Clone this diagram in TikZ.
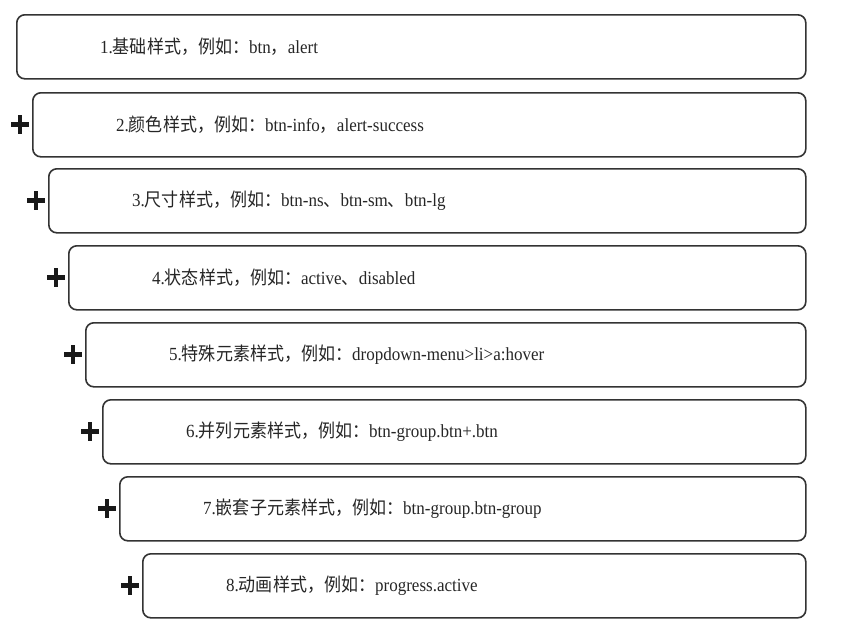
\documentclass[tikz,border=0pt]{standalone}
\usepackage{fontspec}
\setmainfont{Liberation Serif}[FakeStretch=0.92]
\newfontfamily\cjk{Noto Sans CJK SC}[FakeStretch=0.92]
\newcommand\zh[1]{{\cjk #1}}
\tikzset{
  box/.style={draw=black!80, line width=1.6pt, rounded corners=8pt, fill=white,
    minimum height=64pt, anchor=north west, inner sep=0pt},
  lbl/.style={anchor=west, inner sep=0pt, font=\fontsize{18.5}{21}\selectfont, text=black!85},
  plussign/.style={line width=4.8pt, draw=black!90}
}
\newcommand\boxrow[4]{% name, left, top, text
  \node[box, minimum width={805pt-#2pt}] (#1) at (#2pt,-#3pt) {};
  \node[lbl] (t#1) at ([xshift=84pt]#1.west) {#4};
}
\newcommand\plusat[1]{%
  \draw[plussign] ([xshift=-21pt]#1.west) -- ([xshift=-3pt]#1.west);
  \draw[plussign] ([xshift=-12pt,yshift=9.5pt]#1.west) -- ([xshift=-12pt,yshift=-9.5pt]#1.west);
}
\begin{document}
\begin{tikzpicture}[x=1pt,y=1pt]
\useasboundingbox (0,0) rectangle (844,-629);
\boxrow{b1}{16}{14}{1.\zh{基础样式，例如：}btn\zh{，}alert}
\boxrow{b2}{32}{92}{2.\zh{颜色样式，例如：}btn-info\zh{，}alert-success}
\boxrow{b3}{48}{168}{3.\zh{尺寸样式，例如：}btn-ns\zh{、}btn-sm\zh{、}btn-lg}
\boxrow{b4}{68}{245}{4.\zh{状态样式，例如：}active\zh{、}disabled}
\boxrow{b5}{85}{322}{5.\zh{特殊元素样式，例如：}dropdown-menu>li>a:hover}
\boxrow{b6}{102}{399}{6.\zh{并列元素样式，例如：}btn-group.btn+.btn}
\boxrow{b7}{119}{476}{7.\zh{嵌套子元素样式，例如：}btn-group.btn-group}
\boxrow{b8}{142}{553}{8.\zh{动画样式，例如：}progress.active}
\plusat{b2}
\plusat{b3}
\plusat{b4}
\plusat{b5}
\plusat{b6}
\plusat{b7}
\plusat{b8}
\end{tikzpicture}
\end{document}
